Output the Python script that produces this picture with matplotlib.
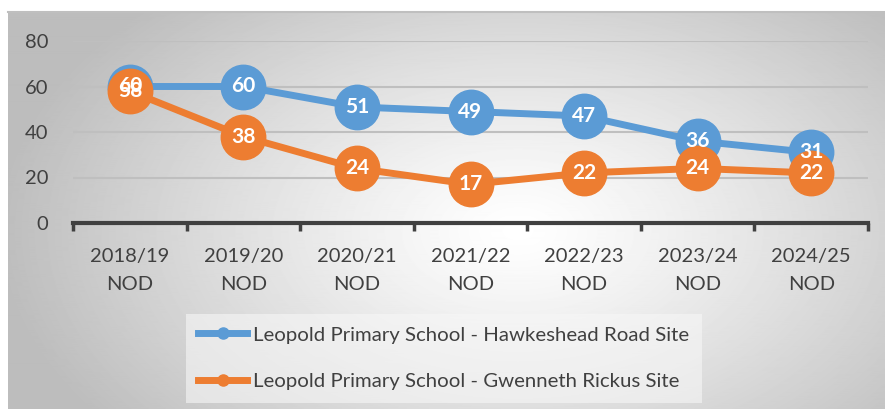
import numpy as np
import matplotlib
matplotlib.use('Agg')
import matplotlib.pyplot as plt
from matplotlib.lines import Line2D

plt.rcParams['font.family'] = ['Lato', 'DejaVu Sans']

years = ['2018/19\nNOD', '2019/20\nNOD', '2020/21\nNOD', '2021/22\nNOD',
         '2022/23\nNOD', '2023/24\nNOD', '2024/25\nNOD']
hawkeshead = [60, 60, 51, 49, 47, 36, 31]
gwenneth = [58, 38, 24, 17, 22, 24, 22]
series_names = ['Leopold Primary School - Hawkeshead Road Site',
                'Leopold Primary School - Gwenneth Rickus Site']

blue = '#5B9BD5'
orange = '#ED7D31'
text_col = '#404040'

W, H = 885, 409
fig = plt.figure(figsize=(W / 100, H / 100), dpi=100)

# radial grey gradient behind the chart area
bg = fig.add_axes([8 / W, 0, 1 - 8 / W, 1 - 12 / H])
yy, xx = np.mgrid[0:400, 0:877]
r = np.sqrt(((xx - 510) / 520) ** 2 + ((yy - 220) / 320) ** 2)
shade = 1 - 0.26 * np.clip(r, 0, 1) ** 1.2
bg.imshow(shade, cmap='gray', vmin=0, vmax=1, aspect='auto',
          extent=[0, 1, 0, 1], interpolation='bilinear')
bg.set_xticks([])
bg.set_yticks([])
for s in ['left', 'right', 'bottom']:
    bg.spines[s].set_visible(False)
bg.spines['top'].set_color('#bfbfbf')
bg.spines['top'].set_linewidth(1.5)

ax = fig.add_axes([73 / W, 1 - 223 / H, (868 - 73) / W, (223 - 41) / H])
ax.patch.set_alpha(0)
x = np.arange(len(years))

ax.plot(x, hawkeshead, color=blue, lw=5, marker='o', ms=32, zorder=3)
ax.plot(x, gwenneth, color=orange, lw=5, marker='o', ms=32, zorder=4)
for i in x:
    ax.text(i, hawkeshead[i], str(hawkeshead[i]), color='white', fontsize=15,
            fontweight='bold', ha='center', va='center', zorder=5)
    ax.text(i, gwenneth[i], str(gwenneth[i]), color='white', fontsize=15,
            fontweight='bold', ha='center', va='center', zorder=6)

ax.set_xlim(-0.5, len(years) - 0.5)
ax.set_ylim(0, 80)
ax.set_yticks([0, 20, 40, 60, 80])
ax.yaxis.grid(True, color='#bfbfbf', lw=1.5)
ax.set_axisbelow(True)
ax.tick_params(axis='y', length=0, pad=18, labelsize=14.5, labelcolor=text_col)

ax.set_xticks(x)
ax.set_xticklabels(years, linespacing=1.75)
ax.set_xticks(np.arange(-0.5, len(years)), minor=True)
ax.tick_params(axis='x', which='major', length=0, pad=18, labelsize=14.5,
               labelcolor=text_col)
ax.tick_params(axis='x', which='minor', length=6, width=2.5, color=text_col,
               direction='out')

for s in ['left', 'right', 'top']:
    ax.spines[s].set_visible(False)
ax.spines['bottom'].set_color(text_col)
ax.spines['bottom'].set_linewidth(3)

handles = [Line2D([], [], color=blue, lw=5, marker='o', ms=8),
           Line2D([], [], color=orange, lw=5, marker='o', ms=8)]
leg = fig.legend(handles, series_names, loc='upper left',
                 bbox_to_anchor=(186 / W, 1 - 314 / H), frameon=True,
                 fontsize=14.7, labelcolor=text_col, handlelength=2.4,
                 handletextpad=0.3, labelspacing=1.45, borderpad=0.6,
                 borderaxespad=0, fancybox=False)
leg.get_frame().set_facecolor('#f7f7f7')
leg.get_frame().set_alpha(0.6)
leg.get_frame().set_linewidth(0)

fig.savefig('out.png', dpi=100)
